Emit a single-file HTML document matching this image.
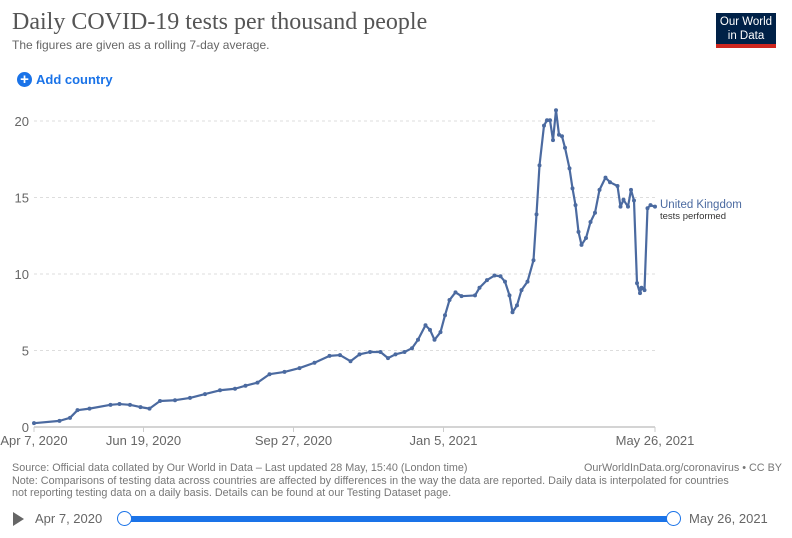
<!DOCTYPE html>
<html><head><meta charset="utf-8"><style>
body{margin:0;width:792px;height:538px;background:#fff;overflow:hidden;font-family:"Liberation Sans",sans-serif;position:relative}
.abs{position:absolute;white-space:nowrap}
</style></head><body>
<div class="abs" style="left:12px;top:9px;font-family:'Liberation Serif',serif;font-size:24px;color:#555">Daily COVID-19 tests per thousand people</div>
<div class="abs" style="left:12px;top:38px;font-size:12px;color:#666">The figures are given as a rolling 7-day average.</div>
<div class="abs" style="left:716px;top:13px;width:60px;height:35px;background:#002147;border-bottom:4px solid #ce261e;color:#fff;font-size:11.5px;line-height:14px;text-align:center;padding-top:2px;box-sizing:border-box">Our World<br>in Data</div>
<div class="abs" style="left:17px;top:72px;font-size:13px;color:#1a73e8;font-weight:bold;display:flex;align-items:center"><span style="display:inline-block;width:15px;height:15px;border-radius:50%;background:#1a73e8;color:#fff;font-size:15px;line-height:15px;text-align:center;margin-right:4px">+</span>Add country</div>
<svg width="792" height="538" style="position:absolute;left:0;top:0" id="chart">
<g id="grid"></g><g id="ticks"></g><g id="series"></g>
</svg>
<div class="abs" style="left:12px;top:462px;font-size:10.8px;color:#777;line-height:12.5px">Source: Official data collated by Our World in Data – Last updated 28 May, 15:40 (London time)<br>Note: Comparisons of testing data across countries are affected by differences in the way the data are reported. Daily data is interpolated for countries<br>not reporting testing data on a daily basis. Details can be found at our Testing Dataset page.</div>
<div class="abs" style="right:10px;top:462px;font-size:10.8px;color:#777">OurWorldInData.org/coronavirus • CC BY</div>
<div class="abs" style="left:13px;top:512px;width:0;height:0;border-left:11px solid #666;border-top:7px solid transparent;border-bottom:7px solid transparent"></div>
<div class="abs" style="left:35px;top:511px;font-size:13px;color:#666">Apr 7, 2020</div>
<div class="abs" style="left:125px;top:516px;width:549px;height:6px;background:#1a73e8"></div>
<div class="abs" style="left:117px;top:511px;width:13px;height:13px;border:1.5px solid #1a73e8;border-radius:50%;background:#fff"></div>
<div class="abs" style="left:666px;top:511px;width:13px;height:13px;border:1.5px solid #1a73e8;border-radius:50%;background:#fff"></div>
<div class="abs" style="left:689px;top:511px;font-size:13px;color:#666">May 26, 2021</div>
<script>
const days=[0,17,24,29,37,51,57,64,71,77,84,94,104,114,124,134,141,149,157,167,177,187,197,204,211,217,224,231,236,241,247,252,256,261,264,267,271,274,277,281,285,294,297,302,307,311,314,317,319,322,325,329,333,335,337,340,342,344,346,348,350,352,354,357,359,361,363,365,368,371,374,377,381,384,389,391,393,396,398,400,402,404,405,407,409,411,414];
const values=[0.25,0.4,0.6,1.1,1.2,1.45,1.5,1.45,1.3,1.2,1.7,1.75,1.9,2.15,2.4,2.5,2.7,2.9,3.45,3.6,3.85,4.2,4.65,4.7,4.3,4.75,4.9,4.9,4.5,4.75,4.9,5.15,5.7,6.65,6.35,5.7,6.2,7.3,8.3,8.8,8.55,8.6,9.1,9.6,9.9,9.85,9.5,8.6,7.5,7.95,8.95,9.5,10.9,13.9,17.1,19.7,20.05,20.05,18.75,20.7,19.1,19.0,18.25,16.9,15.6,14.5,12.75,11.9,12.35,13.4,14.0,15.5,16.3,16.0,15.75,14.4,14.85,14.4,15.5,14.8,9.4,8.75,9.1,8.95,14.3,14.5,14.4];
const yTicks=[0,5,10,15,20];
const xTickDays=[0,73,173,273,414];
const xTickLabels=["Apr 7, 2020","Jun 19, 2020","Sep 27, 2020","Jan 5, 2021","May 26, 2021"];
const NS="http://www.w3.org/2000/svg";
const X=d=>34+d*(621/414), Y=v=>427-v*15.3;
function mk(t,a,p){const e=document.createElementNS(NS,t);for(const k in a)e.setAttribute(k,a[k]);p.appendChild(e);return e;}
const grid=document.getElementById('grid'),ticks=document.getElementById('ticks'),ser=document.getElementById('series');
yTicks.forEach(v=>{
  const l=mk('line',{x1:34,x2:655,y1:Y(v),y2:Y(v),stroke:v?'#ddd':'#aaa','stroke-dasharray':v?'3,3':''},grid);
  
  
  const t=mk('text',{x:29,y:Y(v)+5,'text-anchor':'end','font-size':13,fill:'#666','font-family':'Liberation Sans'},ticks);
  t.textContent=v;
  
  
});
xTickDays.forEach((d,i)=>{
  const l=mk('line',{x1:X(d),x2:X(d),y1:427,y2:432,stroke:'#ccc'},ticks);
  
  
  const t=mk('text',{x:X(d),y:445,'text-anchor':'middle','font-size':13,fill:'#666','font-family':'Liberation Sans'},ticks);
  t.textContent=xTickLabels[i];
  
  
});
const pts=days.map((d,i)=>X(d)+','+Y(values[i])).join(' ');
const pl=mk('polyline',{points:pts,fill:'none',stroke:'#4b6aa0','stroke-width':2.2,'stroke-linejoin':'round'},ser);


days.forEach((d,i)=>{
  const c=mk('circle',{cx:X(d),cy:Y(values[i]),r:2,fill:'#4b6aa0'},ser);
  
  
});
const lbl=mk('text',{x:660,y:208,'font-size':11.5,fill:'#4b6aa0','font-family':'Liberation Sans'},ser);
lbl.textContent='United Kingdom';


const sub=mk('text',{x:660,y:219,'font-size':9.5,fill:'#333','font-family':'Liberation Sans'},ser);
sub.textContent='tests performed';


</script>
</body></html>
